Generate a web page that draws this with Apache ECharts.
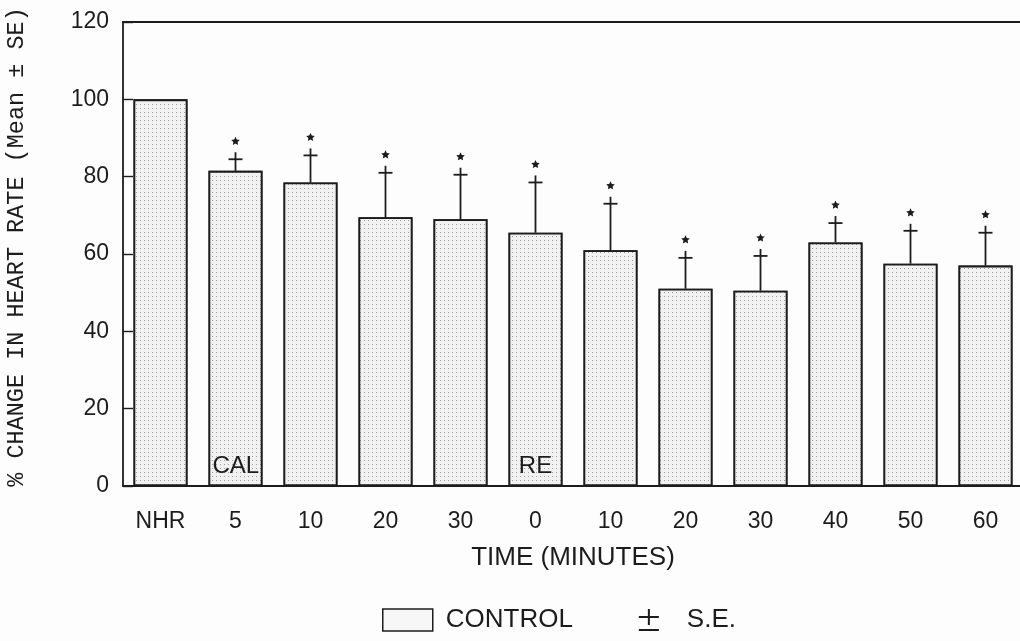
<!DOCTYPE html>
<html>
<head>
<meta charset="utf-8">
<script src="https://cdn.jsdelivr.net/npm/echarts@6/dist/echarts.min.js"></script>
<style>
html,body{margin:0;padding:0;background:#fdfdfd;}
#c{width:1020px;height:641px;}
</style>
</head>
<body>
<div id="c"></div>
<script>
var categories = ['NHR', '5', '10', '20', '30', '0', '10', '20', '30', '40', '50', '60'];
var meanValues = [100, 81.5, 78.5, 69.5, 69, 65.5, 61, 51, 50.5, 63, 57.5, 57];
var seUpper   = [null, 84.5, 85.5, 81, 80.5, 78.5, 73, 59, 59.5, 68, 66, 65.5];
var significant = [false, true, true, true, true, true, true, true, true, true, true, true];
var barNotes = ['', 'CAL', '', '', '', 'RE', '', '', '', '', '', ''];
var yTicks = [0, 20, 40, 60, 80, 100, 120];

var ink = '#1c1c1c';
var sans = '"Liberation Sans", Arial, Helvetica, sans-serif';

function starPoints(cx, cy, R, r) {
  var pts = [];
  for (var i = 0; i < 10; i++) {
    var rad = (i % 2 === 0) ? R : r;
    var a = -Math.PI / 2 + i * Math.PI / 5;
    pts.push([cx + rad * Math.cos(a), cy + rad * Math.sin(a)]);
  }
  return pts;
}

var barData = meanValues.map(function (v, i) {
  var item = { value: v };
  if (barNotes[i]) {
    item.label = {
      show: true,
      formatter: barNotes[i],
      position: i === 1 ? 'insideBottomLeft' : 'insideBottom',
      distance: 8,
      offset: i === 1 ? [-4, 0] : [0, 0],
      color: ink,
      fontFamily: sans,
      fontSize: 24
    };
  }
  return item;
});

var errData = [];
categories.forEach(function (c, i) {
  if (seUpper[i] != null) errData.push([i, seUpper[i], meanValues[i], significant[i] ? 1 : 0]);
});

var chart = echarts.init(document.getElementById('c'), null, { renderer: 'canvas' });
chart.setOption({
  backgroundColor: '#fdfdfd',
  animation: false,
  grid: { left: 123, top: 22, width: 900, height: 464, containLabel: false, outerBoundsMode: 'none' },
  legend: {
    left: 382,
    top: 607,
    padding: 0,
    itemWidth: 50,
    itemHeight: 22,
    itemGap: 66,
    textStyle: { fontFamily: sans, fontSize: 26, color: ink, padding: [0, 0, 0, 8] },
    data: [
      { name: 'CONTROL', icon: 'rect', itemStyle: { color: '#f7f7f7', borderColor: ink, borderWidth: 1.5, decal: 'none' } },
      { name: 'S.E.', icon: 'path://M10,0h2v16h-2z M1,7h20v2h-20z M1,20h20v2h-20z', itemStyle: { color: ink, borderWidth: 0 } }
    ]
  },
  xAxis: [{
    type: 'category',
    data: categories,
    position: 'bottom',
    name: 'TIME (MINUTES)',
    nameLocation: 'middle',
    nameGap: 59,
    nameTextStyle: { fontFamily: sans, fontSize: 26, color: ink },
    axisLine: { lineStyle: { color: ink, width: 1.8 } },
    axisTick: { inside: true, alignWithLabel: true, length: 9, lineStyle: { color: ink, width: 1.4 } },
    axisLabel: { fontFamily: sans, fontSize: 23, color: ink, margin: 24, interval: 0 },
    splitLine: { show: false }
  }, {
    type: 'category',
    data: categories,
    position: 'top',
    axisLine: { show: true, lineStyle: { color: ink, width: 1.8 } },
    axisTick: { show: false },
    axisLabel: { show: false }
  }],
  yAxis: {
    type: 'value',
    min: 0,
    max: 120,
    interval: 20,
    name: '% CHANGE IN HEART RATE (Mean \u00B1 SE)',
    nameLocation: 'middle',
    nameGap: 94,
    nameRotate: 90,
    nameTextStyle: { fontFamily: '"Liberation Mono", "DejaVu Sans Mono", monospace', fontSize: 23.5, color: ink, padding: [0, 0, 0, 14] },
    axisLine: { show: true, lineStyle: { color: ink, width: 1.8 } },
    axisTick: { show: true, inside: true, length: 10, lineStyle: { color: ink, width: 1.4 } },
    axisLabel: {
      fontFamily: sans, fontSize: 23, color: ink, margin: 14,
      formatter: function (v) { return yTicks.indexOf(v) >= 0 ? String(v) : ''; }
    },
    splitLine: { show: false }
  },
  series: [{
    name: 'CONTROL',
    type: 'bar',
    data: barData,
    barWidth: 54,
    itemStyle: {
      color: '#f1f1f1',
      borderColor: ink,
      borderWidth: 1.8,
      decal: {
        symbol: 'rect',
        symbolSize: 1,
        dashArrayX: [1, 3],
        dashArrayY: [1, 3],
        color: 'rgba(70,70,70,0.5)',
        backgroundColor: '#f1f1f1'
      }
    },
    emphasis: { disabled: true }
  }, {
    name: 'S.E.',
    type: 'custom',
    data: errData,
    itemStyle: { color: ink },
    z: 5,
    renderItem: function (params, api) {
      var x = api.value(0);
      var pTop = api.coord([x, api.value(1)]);
      var pBar = api.coord([x, api.value(2)]);
      var cx = pBar[0];
      var children = [
        { type: 'line', shape: { x1: cx, y1: pBar[1], x2: cx, y2: pTop[1] - 7 }, style: { stroke: ink, lineWidth: 1.8 } },
        { type: 'line', shape: { x1: cx - 7, y1: pTop[1], x2: cx + 7, y2: pTop[1] }, style: { stroke: ink, lineWidth: 1.8 } }
      ];
      if (api.value(3) === 1) {
        children.push({ type: 'polygon', shape: { points: starPoints(cx, pTop[1] - 18, 4.5, 2.2) }, style: { fill: ink } });
      }
      return { type: 'group', children: children };
    }
  }]
});
</script>
</body>
</html>
